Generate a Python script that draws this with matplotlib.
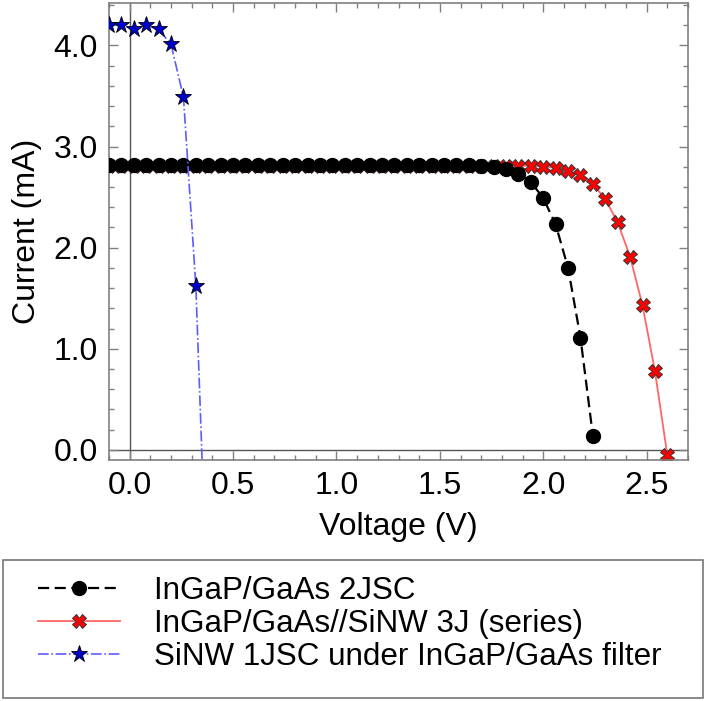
import matplotlib
matplotlib.use("Agg")
import matplotlib.pyplot as plt
from matplotlib.patches import Rectangle
from matplotlib.ticker import MultipleLocator, FormatStrFormatter

plt.rcParams['font.family'] = ['Liberation Sans', 'DejaVu Sans']

# ---- data ----
v_2j = [-0.10, -0.04, 0.02, 0.08, 0.14, 0.20, 0.26, 0.32, 0.38, 0.44,
        0.50, 0.56, 0.62, 0.68, 0.74, 0.80, 0.86, 0.92, 0.98, 1.04,
        1.10, 1.16, 1.22, 1.28, 1.34, 1.40, 1.46, 1.52, 1.58, 1.64,
        1.70, 1.76, 1.82, 1.88, 1.94, 2.00, 2.06, 2.12, 2.18, 2.24]
i_2j = [2.82, 2.82, 2.82, 2.82, 2.82, 2.82, 2.82, 2.82, 2.82, 2.82,
        2.82, 2.82, 2.82, 2.82, 2.82, 2.82, 2.82, 2.82, 2.82, 2.82,
        2.82, 2.82, 2.82, 2.82, 2.82, 2.82, 2.82, 2.82, 2.82, 2.82,
        2.81, 2.80, 2.78, 2.73, 2.65, 2.49, 2.23, 1.80, 1.11, 0.14]

v_3j = [-0.10, -0.04, 0.02, 0.08, 0.14, 0.20, 0.26, 0.32, 0.38, 0.44,
        0.50, 0.56, 0.62, 0.68, 0.74, 0.80, 0.86, 0.92, 0.98, 1.04,
        1.10, 1.16, 1.22, 1.28, 1.34, 1.40, 1.46, 1.52, 1.58, 1.64,
        1.70, 1.76, 1.82, 1.88, 1.94, 2.00, 2.06, 2.12, 2.18, 2.24,
        2.30, 2.36, 2.42, 2.48, 2.54, 2.60]
i_3j = [2.81, 2.81, 2.81, 2.81, 2.81, 2.81, 2.81, 2.81, 2.81, 2.81,
        2.81, 2.81, 2.81, 2.81, 2.81, 2.81, 2.81, 2.81, 2.81, 2.81,
        2.81, 2.81, 2.81, 2.81, 2.81, 2.81, 2.81, 2.81, 2.81, 2.81,
        2.81, 2.81, 2.81, 2.81, 2.81, 2.80, 2.79, 2.76, 2.72, 2.63,
        2.48, 2.25, 1.91, 1.43, 0.78, -0.05]

v_si = [-0.10, -0.04, 0.02, 0.08, 0.14, 0.20, 0.26, 0.32, 0.38]
i_si = [4.20, 4.20, 4.16, 4.20, 4.16, 4.01, 3.49, 1.62, -1.80]

labels = ["InGaP/GaAs 2JSC",
          "InGaP/GaAs//SiNW 3J (series)",
          "SiNW 1JSC under InGaP/GaAs filter"]

FS = 23
W, H = 706, 701
fig = plt.figure(figsize=(W / 100, H / 100), dpi=100)
ax = fig.add_axes([109 / W, 1 - 460 / H, (688 - 109) / W, (460 - 3) / H])

ax.axhline(0, color='#555555', lw=1.0, zorder=1)
ax.axvline(0, color='#555555', lw=1.0, zorder=1)

l3, = ax.plot(v_3j, i_3j, color='#ff6666', lw=1.3, marker='X', ms=9.8,
              mfc='red', mec='#333333', mew=0.7, zorder=2)
l2, = ax.plot(v_2j, i_2j, color='black', lw=1.6, ls=(0, (5, 2.5)),
              marker='o', ms=10, mfc='black', mec='black', zorder=3)
l1, = ax.plot(v_si, i_si, color='#5c5cff', lw=1.2, ls='-.',
              marker='*', ms=12.5, mfc='#0000cc', mec='black', mew=0.6, zorder=4)

ax.set_xlim(-0.1, 2.7)
ax.set_ylim(-0.1, 4.42)
ax.xaxis.set_major_locator(MultipleLocator(0.5))
ax.xaxis.set_minor_locator(MultipleLocator(0.1))
ax.yaxis.set_major_locator(MultipleLocator(1.0))
ax.yaxis.set_minor_locator(MultipleLocator(0.2))
ax.xaxis.set_major_formatter(FormatStrFormatter('%.1f'))
ax.yaxis.set_major_formatter(FormatStrFormatter('%.1f'))
ax.tick_params(which='both', direction='in', top=True, right=True,
               color='#808080', labelsize=FS, width=1.0)
ax.tick_params(which='major', length=6.5, pad=8)
ax.tick_params(which='minor', length=3.5)
for s in ax.spines.values():
    s.set_color('#808080')
    s.set_linewidth(1.2)

ax.set_xlabel("Voltage (V)", fontsize=FS, labelpad=8)
ax.set_ylabel("Current (mA)", fontsize=FS, labelpad=8)

# legend frame
fig.patches.append(Rectangle((3 / W, 1 - 698 / H), 700 / W, 138 / H,
                             transform=fig.transFigure, fill=False,
                             edgecolor='#777777', lw=1.2))
leg = fig.legend([l2, l3, l1], labels, loc='upper left',
                 bbox_to_anchor=(38 / W, 1 - 576 / H), frameon=False,
                 fontsize=22.6, handlelength=2.6, handletextpad=1.1,
                 labelspacing=0.1, borderpad=0, borderaxespad=0,
                 numpoints=1)

fig.savefig("out.png", dpi=100)
